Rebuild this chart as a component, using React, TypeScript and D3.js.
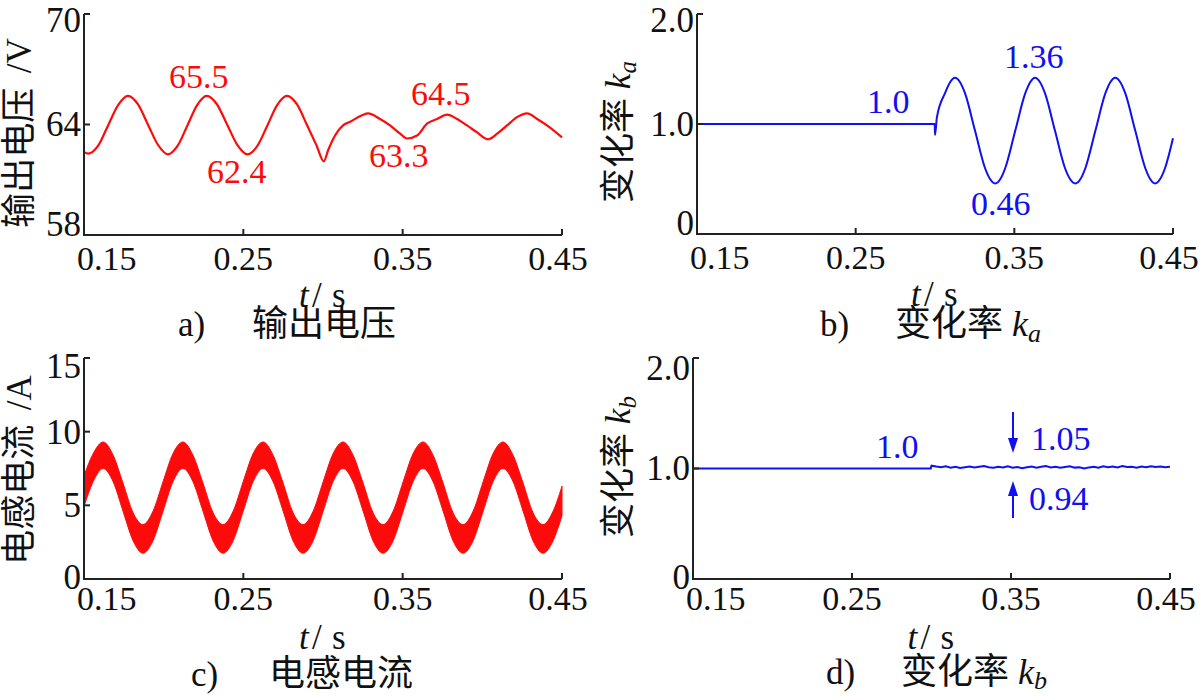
import React from 'react';
import * as d3 from 'd3';

const SERIF = "'Liberation Serif','Times New Roman',serif";
const CJK = "'Liberation Serif','Noto Sans CJK SC',sans-serif";
const RED = '#ff0a0a';
const BLUE = '#1010f0';
const AXIS = '#222';

// ---------- shared axis ticks ----------
const X_TICKS = [0.15, 0.25, 0.35, 0.45];
const X_TICK_LABELS = ['0.15', '0.25', '0.35', '0.45'];

// ---------- a) output voltage ----------
const Y_TICKS_A = [58, 64, 70];
const Y_TICK_LABELS_A = ['58', '64', '70'];
const T_A = [
  0.1500, 0.1527, 0.1589, 0.1651, 0.1714, 0.1776, 0.1838, 0.1901, 0.1964,
  0.2027, 0.2088, 0.2149, 0.2210, 0.2270, 0.2334, 0.2398, 0.2462,
  0.2527, 0.2589, 0.2651, 0.2712, 0.2774, 0.2836, 0.2898, 0.2960, 0.3005,
  0.3032, 0.3063, 0.3126, 0.3170, 0.3245, 0.3283, 0.3358, 0.3421, 0.3484,
  0.3528, 0.3590, 0.3653, 0.3716, 0.3779, 0.3841, 0.3904, 0.3967, 0.4036,
  0.4093, 0.4155, 0.4218, 0.4281, 0.4344, 0.4406, 0.4500,
];
const V_A = [
  62.50, 62.42, 62.85, 63.95, 65.05, 65.55, 65.10, 64.00, 62.90,
  62.38, 62.85, 63.95, 65.05, 65.55, 65.10, 64.00, 62.90,
  62.38, 62.85, 63.95, 65.05, 65.55, 65.10, 64.00, 62.85, 62.00,
  62.60, 63.20, 63.95, 64.15, 64.50, 64.60, 64.30, 63.95, 63.50,
  63.24, 63.40, 64.05, 64.30, 64.54, 64.30, 63.95, 63.57, 63.20,
  63.50, 63.95, 64.40, 64.60, 64.30, 63.95, 63.30,
];

// ---------- b) ratio ka ----------
const Y_TICKS_B = [0, 1, 2];
const Y_TICK_LABELS_B = ['0', '1.0', '2.0'];
const T_B = [
  0.1500, 0.2998, 0.3000, 0.3012, 0.3063, 0.3095, 0.3126,
  0.3158, 0.3189, 0.3252, 0.3315, 0.3347, 0.3380, 0.3412, 0.3443, 0.3506, 0.3569, 0.3600, 0.3630,
  0.3662, 0.3693, 0.3756, 0.3819, 0.3851, 0.3885, 0.3917, 0.3948, 0.4011, 0.4074, 0.4105, 0.4136,
  0.4168, 0.4199, 0.4262, 0.4325, 0.4356, 0.4387, 0.4419, 0.4450, 0.4500,
];
const K_A = [
  1.00, 1.00, 0.90, 1.06, 1.28, 1.38, 1.42,
  1.38, 1.28, 0.94, 0.60, 0.50, 0.46, 0.50, 0.60, 0.94, 1.28, 1.38, 1.42,
  1.38, 1.28, 0.94, 0.60, 0.50, 0.46, 0.50, 0.60, 0.94, 1.28, 1.38, 1.42,
  1.38, 1.28, 0.94, 0.60, 0.50, 0.46, 0.50, 0.60, 0.87,
];

// ---------- c) inductor current (ripple band envelopes) ----------
const Y_TICKS_C = [0, 5, 10, 15];
const Y_TICK_LABELS_C = ['0', '5', '10', '15'];
const T_C = [
  0.1500, 0.1557,
  0.1620, 0.1683, 0.1745, 0.1808, 0.1870, 0.1933, 0.1996, 0.2058,
  0.2121, 0.2184, 0.2247, 0.2310, 0.2373, 0.2436, 0.2499, 0.2561,
  0.2624, 0.2687, 0.2750, 0.2812, 0.2875, 0.2938, 0.3001, 0.3063,
  0.3126, 0.3189, 0.3252, 0.3314, 0.3377, 0.3440, 0.3503, 0.3565,
  0.3628, 0.3691, 0.3754, 0.3816, 0.3879, 0.3942, 0.4005, 0.4067,
  0.4130, 0.4193, 0.4256, 0.4318, 0.4381, 0.4444, 0.4500,
];
const IL_UPPER = [
  7.0, 8.5,
  9.3, 8.4, 6.5, 4.5, 3.7, 4.6, 6.6, 8.5,
  9.3, 8.4, 6.5, 4.5, 3.7, 4.6, 6.6, 8.5,
  9.3, 8.4, 6.5, 4.5, 3.7, 4.6, 6.6, 8.5,
  9.3, 8.4, 6.5, 4.5, 3.7, 4.6, 6.6, 8.5,
  9.3, 8.4, 6.5, 4.5, 3.7, 4.6, 6.6, 8.5,
  9.3, 8.4, 6.5, 4.5, 3.7, 4.6, 6.3,
];
const IL_LOWER = [
  4.9, 6.6,
  7.5, 6.6, 4.6, 2.6, 1.75, 2.6, 4.6, 6.6,
  7.5, 6.6, 4.6, 2.6, 1.75, 2.6, 4.6, 6.6,
  7.5, 6.6, 4.6, 2.6, 1.75, 2.6, 4.6, 6.6,
  7.5, 6.6, 4.6, 2.6, 1.75, 2.6, 4.6, 6.6,
  7.5, 6.6, 4.6, 2.6, 1.75, 2.6, 4.6, 6.6,
  7.5, 6.6, 4.6, 2.6, 1.75, 2.6, 4.3,
];

// ---------- d) ratio kb ----------
const Y_TICKS_D = [0, 1, 2];
const Y_TICK_LABELS_D = ['0', '1.0', '2.0'];
const T_D = [
  0.1500, 0.2995, 0.3000, 0.3030, 0.3060, 0.3090, 0.3120, 0.3150, 0.3180, 0.3210,
  0.3240, 0.3270, 0.3300, 0.3330, 0.3360, 0.3390, 0.3420, 0.3450, 0.3480, 0.3510,
  0.3540, 0.3570, 0.3600, 0.3630, 0.3660, 0.3690, 0.3720, 0.3750, 0.3780, 0.3810,
  0.3840, 0.3870, 0.3900, 0.3930, 0.3960, 0.3990, 0.4020, 0.4050, 0.4080, 0.4110,
  0.4140, 0.4170, 0.4200, 0.4230, 0.4260, 0.4290, 0.4320, 0.4350, 0.4380, 0.4410,
  0.4440, 0.4470, 0.4500,
];
const K_B = [
  1.000, 1.000, 1.025, 1.018, 1.012, 1.020, 1.008, 1.015, 1.005, 1.012,
  1.018, 1.010, 1.016, 1.022, 1.012, 1.006, 1.015, 1.010, 1.020, 1.008,
  1.014, 1.002, 1.012, 1.018, 1.008, 1.015, 1.022, 1.010, 1.016, 1.006,
  1.014, 1.020, 1.008, 1.012, 1.000, 1.010, 1.016, 1.008, 1.020, 1.012,
  1.018, 1.010, 1.022, 1.014, 1.016, 1.008, 1.018, 1.012, 1.020, 1.014,
  1.018, 1.012, 1.015,
];

type Scale = d3.ScaleLinear<number, number>;

function Axes(props: {
  x: Scale; y: Scale; yTicks: number[]; yTickLabels: string[];
  labTop: number; labBot: number; xLabDy: number; titleDy: number;
}) {
  const { x, y, yTicks, yTickLabels, labTop, labBot, xLabDy, titleDy } = props;
  const [x0, x1] = x.range();
  const [yb, yt] = y.range();
  const last = X_TICKS.length - 1;
  const cx = (x0 + x1) / 2;
  return (
    <g>
      <path d={`M${x0},${yt}V${yb}H${x1}`} fill="none" stroke={AXIS} strokeWidth={2} />
      {X_TICKS.map((t) => (
        <line key={'xt' + t} x1={x(t)} x2={x(t)} y1={yb} y2={yb - 6} stroke={AXIS} strokeWidth={2} />
      ))}
      {yTicks.map((v) => (
        <line key={'yt' + v} x1={x0} x2={x0 + 6} y1={y(v)} y2={y(v)} stroke={AXIS} strokeWidth={2} />
      ))}
      {X_TICKS.map((t, i) => (
        <text key={'xl' + t} x={i === 0 ? x0 - 7 : i === last ? x(t) - 4 : x(t)} y={yb + xLabDy}
          textAnchor={i === 0 ? 'start' : 'middle'} fontFamily={SERIF} fontSize={34} fill="#111">
          {X_TICK_LABELS[i]}
        </text>
      ))}
      {yTicks.map((v, i) => (
        <text key={'yl' + v} x={x0 - 3}
          y={Math.min(Math.max(y(v), yt + labTop), yb - labBot)} dy="0.34em"
          textAnchor="end" fontFamily={SERIF} fontSize={35} fill="#111">
          {yTickLabels[i]}
        </text>
      ))}
      <text x={cx - 24} y={yb + titleDy} fontFamily={SERIF} fontStyle="italic" fontSize={35} fill="#111">t</text>
      <text x={cx - 11} y={yb + titleDy} fontFamily={SERIF} fontSize={35} fill="#111">/</text>
      <text x={cx + 9} y={yb + titleDy} fontFamily={SERIF} fontSize={35} fill="#111">s</text>
    </g>
  );
}

function pairs(t: number[], v: number[]): [number, number][] {
  return t.map((tt, i) => [tt, v[i]]);
}

export default function App() {
  // scales
  const xA = d3.scaleLinear().domain([0.15, 0.45]).range([84, 562]);
  const yA = d3.scaleLinear().domain([58, 70]).range([235, 14]);
  const xB = d3.scaleLinear().domain([0.15, 0.45]).range([697, 1173]);
  const yB = d3.scaleLinear().domain([0, 2]).range([234, 14]);
  const xC = d3.scaleLinear().domain([0.15, 0.45]).range([84, 562]);
  const yC = d3.scaleLinear().domain([0, 15]).range([579, 358]);
  const xD = d3.scaleLinear().domain([0.15, 0.45]).range([693, 1170]);
  const yD = d3.scaleLinear().domain([0, 2]).range([579, 358]);

  const lineA = d3.line<[number, number]>().x((d) => xA(d[0])).y((d) => yA(d[1])).curve(d3.curveMonotoneX);
  const lineB = d3.line<[number, number]>().x((d) => xB(d[0])).y((d) => yB(d[1])).curve(d3.curveMonotoneX);
  const lineD = d3.line<[number, number]>().x((d) => xD(d[0])).y((d) => yD(d[1]));
  const areaC = d3.area<number>()
    .x((_, i) => xC(T_C[i]))
    .y0((_, i) => yC(IL_LOWER[i]))
    .y1((_, i) => yC(IL_UPPER[i]))
    .curve(d3.curveMonotoneX);

  const ann = { fontFamily: SERIF, fontSize: 34 } as const;
  const ylab = { fontFamily: CJK, fontSize: 35, fill: '#111', textAnchor: 'middle' as const, dy: '0.35em' };
  const title = { fontFamily: CJK, fontSize: 36, fill: '#111' };

  return (
    <svg width={1200} height={697} style={{ position: 'absolute', left: 0, top: 0, background: '#fff' }}>
      <rect width={1200} height={697} fill="#fff" />

      {/* ---- a ---- */}
      <path d={lineA(pairs(T_A, V_A)) || ''} fill="none" stroke={RED} strokeWidth={2.2} />
      <Axes x={xA} y={yA} yTicks={Y_TICKS_A} yTickLabels={Y_TICK_LABELS_A} labTop={6} labBot={11} xLabDy={35} titleDy={72} />
      <text x={169} y={88} {...ann} fill={RED}>65.5</text>
      <text x={207} y={183} {...ann} fill={RED}>62.4</text>
      <text x={369} y={167} {...ann} fill={RED}>63.3</text>
      <text x={411} y={105} {...ann} fill={RED}>64.5</text>
      <text transform="translate(19,133) rotate(-90)" {...ylab}>
        输出电压 <tspan dx="6">/V</tspan>
      </text>
      <text x={178} y={336} fontFamily={SERIF} fontSize={35} fill="#111">a)</text>
      <text x={252} y={336} {...title}>输出电压</text>

      {/* ---- b ---- */}
      <path d={lineB(pairs(T_B, K_A)) || ''} fill="none" stroke={BLUE} strokeWidth={2} />
      <Axes x={xB} y={yB} yTicks={Y_TICKS_B} yTickLabels={Y_TICK_LABELS_B} labTop={6} labBot={11} xLabDy={35} titleDy={72} />
      <text x={867} y={113} {...ann} fill={BLUE}>1.0</text>
      <text x={1004} y={68} {...ann} fill={BLUE}>1.36</text>
      <text x={971} y={215} {...ann} fill={BLUE}>0.46</text>
      <text transform="translate(618,132) rotate(-90)" {...ylab}>
        变化率 <tspan fontFamily={SERIF} fontStyle="italic">k</tspan>
        <tspan fontFamily={SERIF} fontStyle="italic" fontSize={25} dy="6">a</tspan>
      </text>
      <text x={820} y={336} fontFamily={SERIF} fontSize={35} fill="#111">b)</text>
      <text x={895} y={336} {...title}>
        变化率 <tspan fontFamily={SERIF} fontStyle="italic">k</tspan>
        <tspan fontFamily={SERIF} fontStyle="italic" fontSize={26} dy="6">a</tspan>
      </text>

      {/* ---- c ---- */}
      <path d={areaC(T_C) || ''} fill={RED} stroke={RED} strokeWidth={1} />
      <Axes x={xC} y={yC} yTicks={Y_TICKS_C} yTickLabels={Y_TICK_LABELS_C} labTop={8} labBot={2} xLabDy={31} titleDy={70} />
      <text transform="translate(19,470) rotate(-90)" {...ylab}>
        电感电流 <tspan dx="6">/A</tspan>
      </text>
      <text x={191} y={686} fontFamily={SERIF} fontSize={35} fill="#111">c)</text>
      <text x={269} y={686} {...title}>电感电流</text>

      {/* ---- d ---- */}
      <path d={lineD(pairs(T_D, K_B)) || ''} fill="none" stroke={BLUE} strokeWidth={2} />
      <Axes x={xD} y={yD} yTicks={Y_TICKS_D} yTickLabels={Y_TICK_LABELS_D} labTop={10} labBot={2} xLabDy={31} titleDy={70} />
      <text x={876} y={458} {...ann} fill={BLUE}>1.0</text>
      <text x={1031} y={450} {...ann} fill={BLUE}>1.05</text>
      <text x={1029} y={510} {...ann} fill={BLUE}>0.94</text>
      <line x1={1013} x2={1013} y1={412} y2={440} stroke={BLUE} strokeWidth={2} />
      <path d="M1008,438L1018,438L1013,453Z" fill={BLUE} />
      <line x1={1013} x2={1013} y1={518} y2={494} stroke={BLUE} strokeWidth={2} />
      <path d="M1008,496L1018,496L1013,481Z" fill={BLUE} />
      <text transform="translate(618,467) rotate(-90)" {...ylab}>
        变化率 <tspan fontFamily={SERIF} fontStyle="italic">k</tspan>
        <tspan fontFamily={SERIF} fontStyle="italic" fontSize={25} dy="6">b</tspan>
      </text>
      <text x={826} y={684} fontFamily={SERIF} fontSize={35} fill="#111">d)</text>
      <text x={901} y={684} {...title}>
        变化率 <tspan fontFamily={SERIF} fontStyle="italic">k</tspan>
        <tspan fontFamily={SERIF} fontStyle="italic" fontSize={26} dy="5">b</tspan>
      </text>
    </svg>
  );
}
